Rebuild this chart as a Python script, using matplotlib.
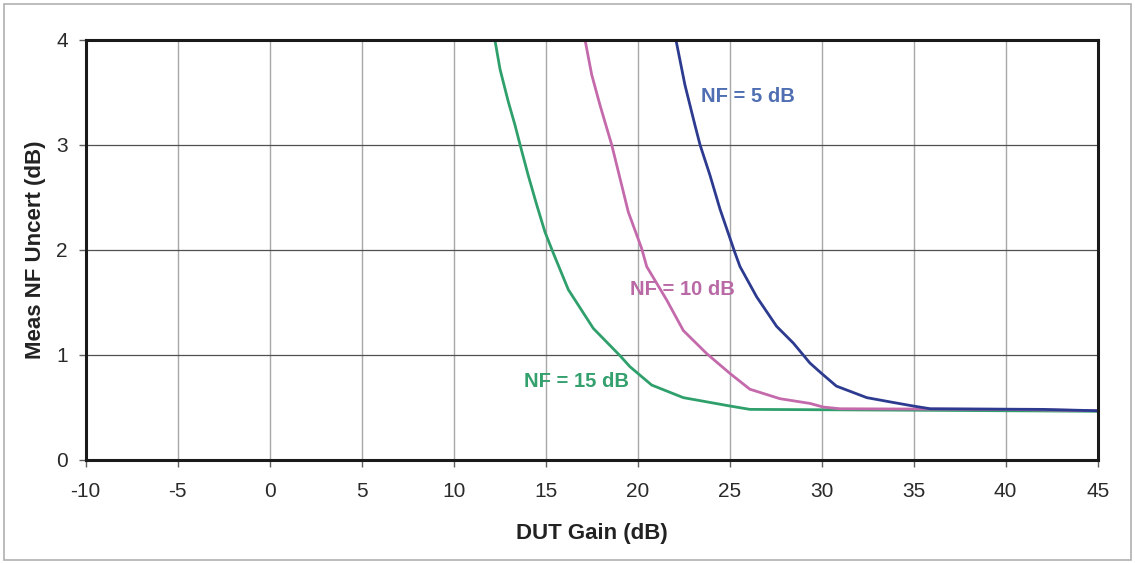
import matplotlib
matplotlib.use("Agg")
import matplotlib.pyplot as plt
from matplotlib.patches import Rectangle

plt.rcParams['font.family'] = ['Liberation Sans', 'DejaVu Sans']

# DUT gain (dB) vs. measured noise-figure uncertainty (dB)
gain_nf5 = [22.08, 22.57, 23.11, 23.39, 23.93, 24.47, 24.84, 25.29, 25.56, 26.47,
            27.55, 28.46, 29.36, 30.00, 30.80, 32.45, 33.70, 34.98, 35.90, 42.00, 45.00]
unc_nf5 = [4.00, 3.57, 3.19, 3.00, 2.71, 2.39, 2.20, 1.97, 1.84, 1.55,
           1.27, 1.11, 0.92, 0.82, 0.70, 0.59, 0.55, 0.51, 0.484, 0.478, 0.465]

gain_nf10 = [17.14, 17.50, 17.95, 18.32, 18.59, 19.04, 19.49, 19.95, 20.22, 20.49,
             21.58, 22.48, 23.75, 25.02, 26.10, 27.73, 29.36, 30.09, 31.00, 40.00, 45.00]
unc_nf10 = [4.00, 3.67, 3.38, 3.16, 3.00, 2.68, 2.36, 2.14, 2.01, 1.84,
            1.52, 1.23, 1.01, 0.82, 0.67, 0.58, 0.535, 0.50, 0.484, 0.478, 0.465]

gain_nf15 = [12.24, 12.52, 12.97, 13.33, 13.61, 14.05, 14.51, 14.96, 15.41, 16.23,
             17.59, 19.04, 19.58, 20.76, 22.48, 25.02, 26.10, 35.00, 45.00]
unc_nf15 = [4.00, 3.72, 3.41, 3.19, 3.00, 2.71, 2.43, 2.17, 1.97, 1.62,
            1.25, 0.99, 0.885, 0.71, 0.59, 0.51, 0.478, 0.47, 0.46]

x_ticks = [-10, -5, 0, 5, 10, 15, 20, 25, 30, 35, 40, 45]
y_ticks = [0, 1, 2, 3, 4]

fig = plt.figure(figsize=(11.35, 5.63), dpi=100)
ax = fig.add_axes([0.0755, 0.1838, 0.8916, 0.7452])

# outer frame around the whole figure
fig.patches.append(Rectangle((4 / 1135, 3 / 563), 1127 / 1135, 556 / 563,
                             transform=fig.transFigure, fill=False,
                             edgecolor='#b0b0b0', linewidth=1.2))

for x in x_ticks[1:-1]:
    ax.axvline(x, color='#a8a8a8', linewidth=1.0, zorder=1)
for y in y_ticks[1:-1]:
    ax.axhline(y, color='#505050', linewidth=0.9, zorder=1)

ax.plot(gain_nf15, unc_nf15, color='#2fa06c', linewidth=2.0, zorder=3)
ax.plot(gain_nf10, unc_nf10, color='#c46aac', linewidth=2.0, zorder=3)
ax.plot(gain_nf5, unc_nf5, color='#2c3b8f', linewidth=2.0, zorder=4)

ax.text(23.45, 3.46, 'NF = 5 dB', color='#4f6fb2', fontsize=14.5, fontweight='bold',
        va='center', ha='left', zorder=5)
ax.text(19.6, 1.625, 'NF = 10 dB', color='#b96aa6', fontsize=14.5, fontweight='bold',
        va='center', ha='left', zorder=5)
ax.text(13.8, 0.74, 'NF = 15 dB', color='#34a06e', fontsize=14.5, fontweight='bold',
        va='center', ha='left', zorder=5)

ax.set_xlim(-10, 45)
ax.set_ylim(0, 4)
ax.set_xticks(x_ticks)
ax.set_yticks(y_ticks)
ax.set_xticklabels([str(v) for v in x_ticks])
ax.set_yticklabels([str(v) for v in y_ticks])
ax.tick_params(axis='both', direction='out', length=5, width=1.0,
               color='#606060', labelsize=15, labelcolor='#2a2a2a')
ax.tick_params(axis='x', pad=11)
ax.tick_params(axis='y', pad=8)

for sp in ax.spines.values():
    sp.set_linewidth(2.2)
    sp.set_color('#1a1a1a')
    sp.set_zorder(6)

ax.set_xlabel('DUT Gain (dB)', fontsize=16, fontweight='bold', color='#222222', labelpad=16)
ax.set_ylabel('Meas NF Uncert (dB)', fontsize=16, fontweight='bold', color='#222222', labelpad=7)

fig.savefig('out.png', dpi=100, facecolor='white')
